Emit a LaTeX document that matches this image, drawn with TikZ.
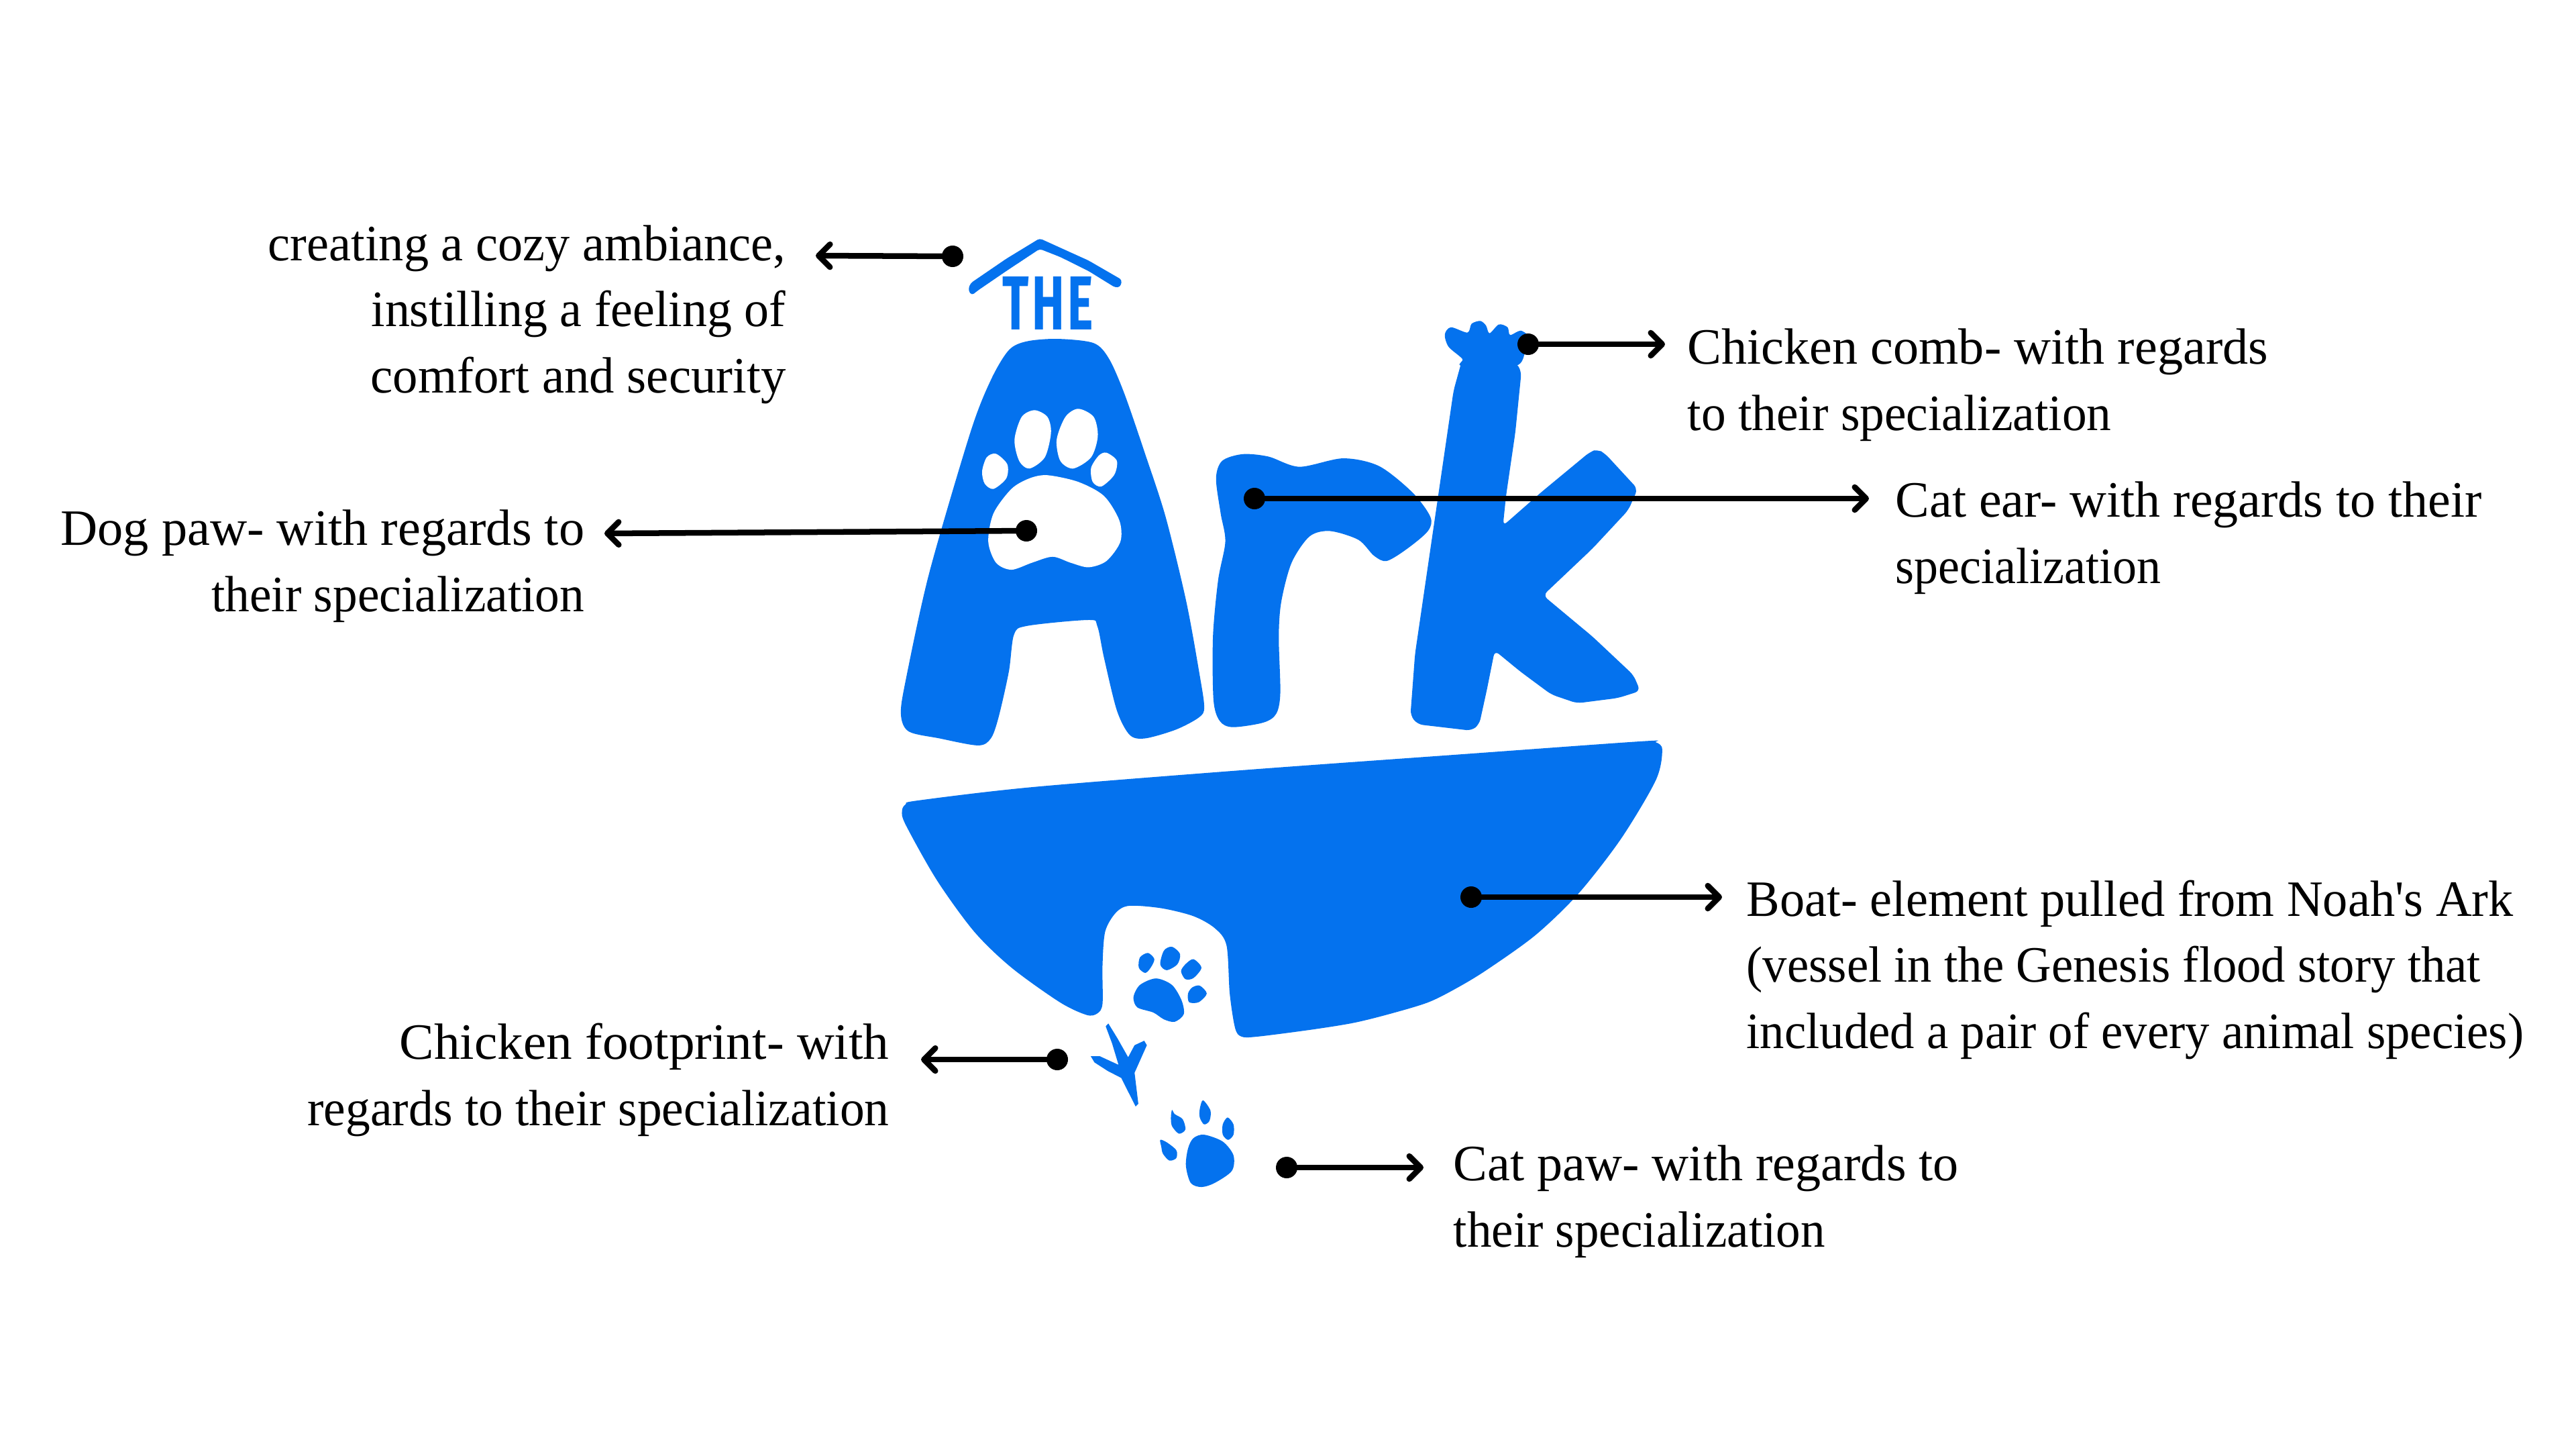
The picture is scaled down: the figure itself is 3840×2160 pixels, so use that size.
\documentclass[tikz,border=0pt]{standalone}
\usepackage{fontspec}
\setmainfont{Liberation Serif}
\newfontfamily\handfont[LetterSpace=6]{Fira Sans}
\usetikzlibrary{arrows.meta}
\definecolor{arkblue}{HTML}{0472EE}
\newcommand\sx[2]{\scalebox{#1}[1]{#2}}
\tikzset{
  blob/.style={fill=arkblue,draw=none},
  hole/.style={fill=white,draw=none},
  dotmark/.style={circle,fill=black,draw=none,minimum size=0.32cm,inner sep=0pt},
  conn/.style={draw=black,line width=0.085cm,-{Straight Barb[length=0.17cm,width=0.34cm,line cap=round,round]}},
  lab/.style={font=\fontsize{21.6pt}{27.9pt}\selectfont,inner sep=0pt,text=black},
  labL/.style={lab,align=left,anchor=base west},
  labR/.style={lab,align=right,anchor=base east},
  zoomA/.style={shift={(13cm,-3.2cm)},x=0.007653cm,y=-0.00523cm},
  zoomB/.style={shift={(13cm,-10.8cm)},x=0.00797cm,y=-0.005128cm},
  sm/.style={smooth cycle,tension=0.5}
}
\begin{document}
\begin{tikzpicture}[x=0.01cm,y=-0.01cm]
\useasboundingbox (0,0) rectangle (3840,2160);
\fill[white] (0,0) rectangle (3840,2160);

\begin{scope}[zoomA]
  % roof
  \fill[blob,rounded corners=0.04cm] (325,67) -- (420,130) -- (485,185) -- (482,205) -- (472,207) -- (420,160) -- (365,120) -- (325,97) -- (260,160) -- (205,215) -- (193,229) -- (186,215) -- (190,195) -- (260,125) -- cycle;
  % A
  \fill[blob] plot[sm] coordinates {(360,353)(430,365)(460,410)(490,510)(530,680)(570,860)(610,1100)(635,1300)(645,1400)(635,1430)(590,1465)(530,1490)(500,1480)(475,1410)(450,1260)(437,1170)(420,1153)(300,1170)(275,1195)(265,1300)(245,1430)(230,1490)(205,1510)(130,1490)(70,1470)(55,1420)(65,1320)(110,1020)(190,620)(230,470)(265,385)(300,360)};
  \fill[hole] plot[sm] coordinates {(315,556)(340,575)(347,620)(335,690)(305,722)(285,700)(276,640)(290,575)};
  \fill[hole] plot[sm] coordinates {(400,552)(430,575)(438,630)(425,690)(390,722)(365,700)(358,640)(375,575)};
  \fill[hole] plot[sm] coordinates {(240,680)(262,710)(260,750)(235,780)(218,765)(213,730)(222,690)};
  \fill[hole] plot[sm] coordinates {(455,677)(475,700)(470,740)(445,773)(428,760)(425,720)(440,685)};
  \fill[hole] plot[sm] coordinates {(340,741)(400,760)(450,800)(480,870)(482,930)(455,985)(420,1003)(385,990)(350,973)(310,990)(270,1010)(240,990)(225,930)(235,850)(270,780)(305,750)};
  % r
  \fill[blob] plot[sm] coordinates {(720,681)(770,688)(830,717)(915,693)(985,715)(1050,790)(1085,860)(1080,900)(1040,950)(1000,985)(975,970)(945,925)(890,900)(850,915)(815,990)(795,1100)(790,1200)(793,1360)(785,1420)(760,1445)(700,1458)(675,1440)(663,1380)(662,1200)(672,1040)(686,930)(677,850)(668,750)(680,700)};
  % k with comb
  \fill[blob] plot[sm] coordinates {(1113,340)(1125,320)(1157,335)(1165,310)(1182,302)(1193,315)(1200,337)(1218,312)(1235,320)(1240,342)(1262,330)(1285,360)(1270,390)(1250,430)(1147,430)(1147,410)(1120,375)};
  \fill[blob,rounded corners=0.08cm] (1147,410) -- (1250,418) -- (1262,445) -- (1250,620) -- (1232,800) -- (1226,885) -- (1300,790) -- (1395,675) -- (1410,667) -- (1425,680) -- (1488,780) -- (1470,840) -- (1400,950) -- (1304,1083) -- (1400,1200) -- (1480,1310) -- (1493,1355) -- (1450,1375) -- (1370,1390) -- (1320,1365) -- (1260,1300) -- (1210,1240) -- (1195,1350) -- (1180,1450) -- (1165,1468) -- (1060,1450) -- (1046,1425) -- (1055,1250) -- (1090,900) -- (1130,500) -- cycle;
\end{scope}

\node[inner sep=0pt,text=arkblue] (theword) at (1562,452) {\resizebox{1.35cm}{0.79cm}{\handfont\bfseries THE}};

\begin{scope}[zoomB]
  % boat
  \fill[blob] plot[sm] coordinates {(85,219)(300,180)(700,130)(1100,85)(1440,47)(1465,50)(1477,72)(1465,160)(1400,330)(1320,490)(1240,610)(1150,710)(1095,762)(1040,805)(970,838)(900,865)(820,885)(720,905)(690,905)(678,880)(668,780)(662,640)(640,590)(600,555)(540,532)(480,525)(455,545)(435,600)(430,700)(430,810)(420,838)(400,842)(350,805)(260,705)(190,600)(120,450)(62,290)(55,250)(62,230)};
  % paw in doorway
  \fill[blob] plot[sm] coordinates {(515,662)(527,680)(520,705)(510,720)(498,705)(500,675)};
  \fill[blob] plot[sm] coordinates {(560,644)(575,665)(570,695)(550,712)(538,695)(545,655)};
  \fill[blob] plot[sm] coordinates {(600,680)(615,705)(600,735)(585,738)(577,715)(585,695)};
  \fill[blob] plot[sm] coordinates {(612,757)(625,780)(610,805)(592,805)(590,780)(598,762)};
  \fill[blob] plot[sm] coordinates {(530,736)(560,755)(578,800)(582,840)(565,862)(545,855)(525,835)(495,820)(488,790)(500,755)};
  % chicken footprint
  \fill[blob] (441,867) -- (458,910) -- (478,965) -- (490,930) -- (508,917) -- (513,930) -- (490,1010) -- (497,1100) -- (492,1108) -- (465,1025) -- (440,1005) -- (415,980) -- (408,962) -- (425,962) -- (460,987) -- (448,925) -- (436,875) -- cycle;
  % cat paw
  \fill[blob] plot[sm] coordinates {(618,1090)(632,1120)(630,1150)(620,1160)(612,1140)(612,1115)};
  \fill[blob] plot[sm] coordinates {(560,1118)(565,1130)(580,1145)(585,1175)(573,1187)(560,1165)(558,1140)};
  \fill[blob] plot[sm] coordinates {(664,1140)(675,1160)(675,1190)(665,1205)(655,1190)(655,1160)};
  \fill[blob] plot[sm] coordinates {(538,1205)(550,1212)(568,1235)(568,1258)(555,1265)(543,1245)(540,1225)};
  \fill[blob] plot[sm] coordinates {(620,1190)(655,1210)(675,1250)(672,1295)(640,1330)(615,1342)(595,1330)(586,1280)(590,1230)(600,1200)};
\end{scope}

% labels
\node[labR] (cozy) at (1172,585) {\sx{.978}{creating a cozy ambiance,}\\\sx{.973}{instilling a feeling of}\\\sx{.984}{comfort and security}};
\node[labR] (dog) at (872,911) {\sx{1.006}{Dog paw- with regards to}\\\sx{.966}{their specialization}};
\node[labL] (comb) at (2515,641) {\sx{1.003}{Chicken comb- with regards}\\\sx{.966}{to their specialization}};
\node[labL] (ear) at (2825,869) {\sx{1}{Cat ear- with regards to their}\\\sx{.947}{specialization}};
\node[labL] (boat) at (2603,1562) {\sx{.979}{Boat- element pulled from Noah\textquotesingle s Ark}\\\sx{.957}{(vessel in the Genesis flood story that}\\\sx{.957}{included a pair of every animal species)}};
\node[labR] (foot) at (1326,1677) {\sx{1.017}{Chicken footprint- with}\\\sx{.967}{regards to their specialization}};
\node[labL] (cat) at (2166,1858) {\sx{1.003}{Cat paw- with regards to}\\\sx{.962}{their specialization}};

% connectors
\node[dotmark] (d1) at (1420,382) {};
\node[dotmark] (d2) at (2278,513) {};
\node[dotmark] (d3) at (1870,743) {};
\node[dotmark] (d4) at (1530,791) {};
\node[dotmark] (d5) at (2193,1337) {};
\node[dotmark] (d6) at (1576,1579) {};
\node[dotmark] (d7) at (1918,1740) {};
\coordinate (t1) at (1216,381);
\coordinate (t2) at (2482,513);
\coordinate (t3) at (2786,743);
\coordinate (t4) at (901,795);
\coordinate (t5) at (2567,1337);
\coordinate (t6) at (1373,1579);
\coordinate (t7) at (2122,1740);
\draw[conn] (d1.center) -- (t1);
\draw[conn] (d2.center) -- (t2);
\draw[conn] (d3.center) -- (t3);
\draw[conn] (d4.center) -- (t4);
\draw[conn] (d5.center) -- (t5);
\draw[conn] (d6.center) -- (t6);
\draw[conn] (d7.center) -- (t7);
\end{tikzpicture}
\end{document}
